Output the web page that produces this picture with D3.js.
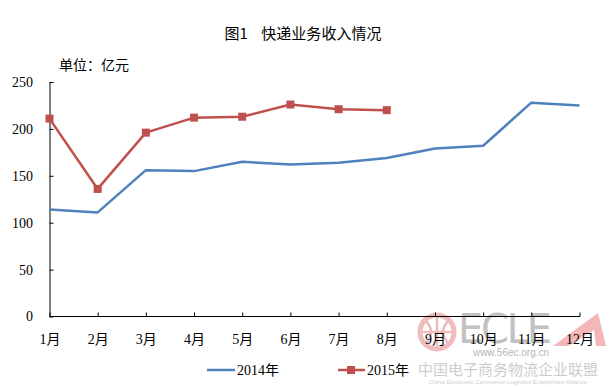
<!DOCTYPE html>
<html>
<head>
<meta charset="utf-8">
<script src="https://cdn.jsdelivr.net/npm/d3@7"></script>
<style>
  body { margin: 0; background: #fff; }
  svg { display: block; }
  .axis text { font-family: "Liberation Serif", "Noto Sans CJK SC", serif; font-size: 14px; fill: #000; }
  .axis path, .axis line { stroke: #000; stroke-width: 1; }
</style>
</head>
<body>
<svg id="chart" width="610" height="387"></svg>
<script>
const months = ["1月", "2月", "3月", "4月", "5月", "6月", "7月", "8月", "9月", "10月", "11月", "12月"];
const values2014 = [114, 111, 156, 155, 165, 162, 164, 169, 179, 182, 228, 225];
const values2015 = [211, 136, 196, 212, 213, 226, 221, 220];
const yTicks = [0, 50, 100, 150, 200, 250];

const BLUE = "#4f81bd";
const RED = "#c0504d";

const svg = d3.select("#chart");

const x = d3.scalePoint().domain(months).range([49.5, 579.5]);
const y = d3.scaleLinear().domain([0, 250]).range([316.5, 82]);

// watermark (drawn first, faint)
const wm = svg.append("g").attr("opacity", 0.7);
wm.append("circle").attr("cx", 437).attr("cy", 332).attr("r", 17)
  .attr("fill", "none").attr("stroke", "#e8a0a0").attr("stroke-width", 5);
wm.append("path").attr("d", "M420,332H454M437,315V349M425,320Q437,332 425,344M449,320Q437,332 449,344")
  .attr("fill", "none").attr("stroke", "#e8a0a0").attr("stroke-width", 2.5);
wm.append("text").attr("x", 458).attr("y", 343).text("ECLE")
  .attr("font-family", "DejaVu Sans, sans-serif").attr("font-size", 40)
  .attr("textLength", 94).attr("fill", "#a8a8a8");
wm.append("path").attr("d", "M553,346L598,313L606,346L596,346L594,330L568,346Z")
  .attr("fill", "#ee9a9a");
wm.append("text").attr("x", 511).attr("y", 356).attr("text-anchor", "middle")
  .text("www.56ec.org.cn").attr("font-family", "Liberation Sans, sans-serif")
  .attr("font-size", 10).attr("fill", "#999");
wm.append("text").attr("x", 508).attr("y", 375).attr("text-anchor", "middle")
  .text("中国电子商务物流企业联盟").attr("font-family", "Noto Sans CJK SC, sans-serif")
  .attr("font-size", 15).attr("fill", "#b8b8b8");
wm.append("text").attr("x", 508).attr("y", 384).attr("text-anchor", "middle")
  .text("China Electronic Commerce Logistics Enterprises Alliance")
  .attr("font-family", "Liberation Sans, sans-serif").attr("font-size", 6.2)
  .attr("fill", "#bbb");

// title and unit
svg.append("text").attr("x", 303).attr("y", 39).attr("text-anchor", "middle")
  .attr("font-family", "Noto Sans CJK SC, sans-serif").attr("font-size", 15)
  .attr("xml:space", "preserve").style("white-space", "pre")
  .text("图1    快递业务收入情况");
svg.append("text").attr("x", 59).attr("y", 69.5)
  .attr("font-family", "Noto Sans CJK SC, sans-serif").attr("font-size", 14)
  .text("单位：亿元");

// axes
svg.append("g").attr("class", "axis")
  .attr("transform", "translate(49.5,0)")
  .call(d3.axisLeft(y).tickValues(yTicks).tickSize(-4).tickSizeOuter(0).tickPadding(16.5));

svg.append("g").attr("class", "axis")
  .attr("transform", "translate(0,316.5)")
  .call(d3.axisBottom(x).tickSize(-4).tickSizeOuter(0).tickPadding(18))
  .call(g => g.select(".domain").attr("d", "M49.5,0H580"));

const line = d3.line().x((d, i) => x(months[i])).y(d => y(d));

svg.append("path").datum(values2014).attr("d", line)
  .attr("fill", "none").attr("stroke", BLUE).attr("stroke-width", 2.5).attr("stroke-linejoin", "round");

svg.append("path").datum(values2015).attr("d", line)
  .attr("fill", "none").attr("stroke", RED).attr("stroke-width", 2.5).attr("stroke-linejoin", "round");

svg.append("g").selectAll("rect").data(values2015).join("rect")
  .attr("x", (d, i) => x(months[i]) - 4).attr("y", d => y(d) - 4)
  .attr("width", 8).attr("height", 8).attr("fill", RED);

// legend
const legend = svg.append("g").attr("font-family", "Liberation Serif, Noto Sans CJK SC, serif").attr("font-size", 14);
legend.append("line").attr("x1", 207).attr("x2", 235).attr("y1", 370).attr("y2", 370)
  .attr("stroke", BLUE).attr("stroke-width", 2.5);
legend.append("text").attr("x", 237).attr("y", 375).text("2014年");
legend.append("line").attr("x1", 338).attr("x2", 365).attr("y1", 370).attr("y2", 370)
  .attr("stroke", RED).attr("stroke-width", 2.5);
legend.append("rect").attr("x", 347).attr("y", 366).attr("width", 8).attr("height", 8).attr("fill", RED);
legend.append("text").attr("x", 367).attr("y", 375).text("2015年");
</script>
</body>
</html>
